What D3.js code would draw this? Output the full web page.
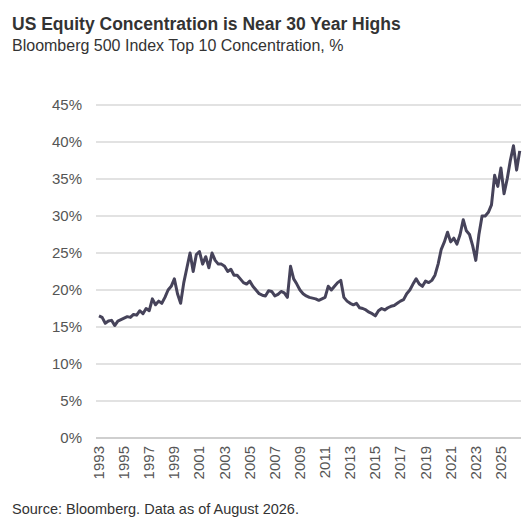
<!DOCTYPE html><html><head><meta charset="utf-8"><script src="https://d3js.org/d3.v7.min.js"></script>
<style>body{margin:0;background:#fff}text{font-family:"Liberation Sans",Arial,sans-serif}</style></head><body><svg id="c" width="529" height="529"></svg><script>
const yearTicks=[1993,1995,1997,1999,2001,2003,2005,2007,2009,2011,2013,2015,2017,2019,2021,2023,2025];
const yTicks=[0,5,10,15,20,25,30,35,40,45];
const startYear=1993;
const values=[16.5,16.3,15.5,15.8, 15.9,15.2,15.8,16.0, 16.2,16.4,16.3,16.7, 16.6,17.2,16.8,17.5,
17.2,18.8,18.0,18.5, 18.2,19.0,20.0,20.5, 21.5,19.5,18.2,21.0, 23.0,25.0,22.5,24.8,
25.2,23.5,24.5,23.0, 25.0,24.0,23.5,23.5, 23.2,22.5,22.8,22.0, 22.0,21.5,21.0,20.8,
21.2,20.5,20.0,19.5, 19.3,19.2,19.9,19.8, 19.2,19.4,19.8,19.6, 19.0,23.2,21.5,20.8,
20.0,19.5,19.2,19.0, 18.9,18.8,18.6,18.8, 19.0,20.5,20.0,20.5, 21.0,21.3,19.0,18.5,
18.2,18.0,18.2,17.6, 17.5,17.3,17.0,16.8, 16.5,17.2,17.5,17.3, 17.6,17.8,17.9,18.2,
18.5,18.7,19.5,20.0, 20.8,21.5,20.8,20.5, 21.2,21.0,21.3,22.0, 23.5,25.5,26.5,27.8,
26.5,27.0,26.2,27.5, 29.5,28.0,27.5,26.0, 24.0,27.5,30.0,30.0, 30.5,31.5,35.5,34.0,
36.5,33.0,35.0,37.5, 39.5,36.2,38.8];
const data=values.map((v,i)=>({t:startYear+i*0.25,v}));
const svg=d3.select("#c");
const x=d3.scaleLinear().domain([1993,2026.6]).range([99,521]);
const y=d3.scaleLinear().domain([0,45]).range([438,105]);
svg.append("text").attr("x",12).attr("y",30).attr("font-size",17.5).attr("font-weight","bold").attr("fill","#333").text("US Equity Concentration is Near 30 Year Highs");
svg.append("text").attr("x",12).attr("y",51).attr("font-size",16).attr("fill","#333").text("Bloomberg 500 Index Top 10 Concentration, %");
const gy=svg.append("g");
yTicks.forEach(t=>{
 if(t>0)gy.append("line").attr("x1",96).attr("x2",521).attr("y1",y(t)).attr("y2",y(t)).attr("stroke","#d9d9d9").attr("stroke-width",1.5);
 gy.append("text").attr("x",82).attr("y",y(t)+5).attr("text-anchor","end").attr("font-size",15).attr("fill","#555").text(t+"%");
});
svg.append("line").attr("x1",96).attr("x2",521).attr("y1",y(0)).attr("y2",y(0)).attr("stroke","#bfbfbf").attr("stroke-width",1.5);
yearTicks.forEach(t=>{
 svg.append("text").attr("transform",`translate(${x(t)+5},${446}) rotate(-90)`).attr("text-anchor","end").attr("font-size",15).attr("fill","#555").text(t);
});
svg.append("path").datum(data).attr("fill","none").attr("stroke","#46435a").attr("stroke-width",3).attr("stroke-linejoin","round")
 .attr("d",d3.line().x(d=>x(d.t)).y(d=>y(d.v)));
svg.append("text").attr("x",12).attr("y",514).attr("font-size",14.5).attr("fill","#333").text("Source: Bloomberg. Data as of August 2026.");
</script></body></html>
